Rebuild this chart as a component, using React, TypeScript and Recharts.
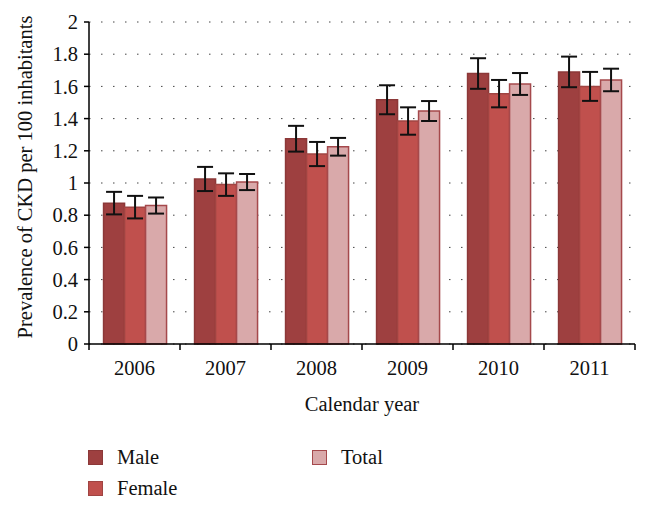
import { BarChart, Bar, XAxis, YAxis, CartesianGrid, ErrorBar } from "recharts";

const years = ["2006", "2007", "2008", "2009", "2010", "2011"];
const male = [0.875, 1.025, 1.275, 1.517, 1.68, 1.69];
const maleErr = [0.07, 0.075, 0.08, 0.09, 0.095, 0.095];
const female = [0.85, 0.99, 1.18, 1.385, 1.555, 1.6];
const femaleErr = [0.07, 0.07, 0.075, 0.085, 0.085, 0.09];
const total = [0.86, 1.006, 1.225, 1.447, 1.615, 1.64];
const totalErr = [0.05, 0.05, 0.055, 0.062, 0.068, 0.07];
const yTicks = [0, 0.2, 0.4, 0.6, 0.8, 1, 1.2, 1.4, 1.6, 1.8, 2];

const series = [
  { key: "male", err: "maleErr", name: "Male", fill: "#9e4040", stroke: "#8c3838" },
  { key: "female", err: "femaleErr", name: "Female", fill: "#c0504d", stroke: "#a04442" },
  { key: "total", err: "totalErr", name: "Total", fill: "#d9a9aa", stroke: "#a5494c" },
];

const data = years.map((y, i) => ({
  year: y,
  male: male[i],
  maleErr: maleErr[i],
  female: female[i],
  femaleErr: femaleErr[i],
  total: total[i],
  totalErr: totalErr[i],
}));

const FONT = "'Liberation Serif', 'DejaVu Serif', serif";
const FS = 20.5;

// year label in the middle, tick mark on the category edges
function YearTick(props: any) {
  const { x, payload, index } = props;
  const half = payload.offset || 0;
  return (
    <g>
      <line x1={x - half} x2={x - half} y1={344} y2={350} stroke="#000" strokeWidth={1.5} />
      {index === years.length - 1 && (
        <line x1={x + half} x2={x + half} y1={344} y2={350} stroke="#000" strokeWidth={1.5} />
      )}
      <text x={x} y={375} textAnchor="middle" fontSize={FS} fontFamily={FONT} fill="#111">
        {payload.value}
      </text>
    </g>
  );
}

export default function App() {
  return (
    <div style={{ position: "absolute", left: 0, top: 0, width: 649, height: 508, background: "#fff" }}>
      <BarChart
        width={649}
        height={508}
        data={data}
        margin={{ top: 22, right: 14, bottom: 94, left: 0 }}
        barCategoryGap="16%"
        barGap={0}
      >
        <CartesianGrid vertical={false} stroke="#444" strokeDasharray="1.5 10.5" />
        <XAxis
          dataKey="year"
          axisLine={{ stroke: "#000", strokeWidth: 1.5 }}
          tickLine={false}
          tick={<YearTick />}
          height={70}
          interval={0}
          label={{
            value: "Calendar year",
            position: "insideBottom",
            offset: 3,
            fontSize: FS,
            fontFamily: FONT,
            fill: "#111",
          }}
        />
        <YAxis
          width={89}
          domain={[0, 2]}
          ticks={yTicks}
          interval={0}
          axisLine={{ stroke: "#000", strokeWidth: 1.5 }}
          tickLine={{ stroke: "#000", strokeWidth: 1.5 }}
          tickSize={5}
          tickMargin={6}
          tick={{ fontSize: FS, fontFamily: FONT, fill: "#111" }}
          label={{
            value: "Prevalence of CKD per 100 inhabitants",
            angle: -90,
            position: "insideLeft",
            dx: 20,
            dy: -6,
            style: { textAnchor: "middle" },
            fontSize: FS,
            fontFamily: FONT,
            fill: "#111",
          }}
        />
        {series.map((s) => (
          <Bar
            key={s.key}
            dataKey={s.key}
            name={s.name}
            fill={s.fill}
            stroke={s.stroke}
            strokeWidth={1.5}
            isAnimationActive={false}
          >
            <ErrorBar dataKey={s.err} width={8} stroke="#111" strokeWidth={2} isAnimationActive={false} />
          </Bar>
        ))}
      </BarChart>
      <div style={{ position: "absolute", left: 0, top: 0, fontFamily: FONT, fontSize: FS, color: "#111" }}>
        {series.map((s, i) => {
          const left = i < 2 ? 88 : 312;
          const top = i === 1 ? 480 : 449;
          return (
            <div key={s.key} style={{ position: "absolute", left, top, whiteSpace: "nowrap", display: "flex", alignItems: "center" }}>
              <span
                style={{
                  display: "inline-block",
                  width: 13,
                  height: 13,
                  background: s.fill,
                  border: `1.5px solid ${s.stroke}`,
                  marginRight: 14,
                }}
              />
              <span style={{ lineHeight: "16px" }}>{s.name}</span>
            </div>
          );
        })}
      </div>
    </div>
  );
}
